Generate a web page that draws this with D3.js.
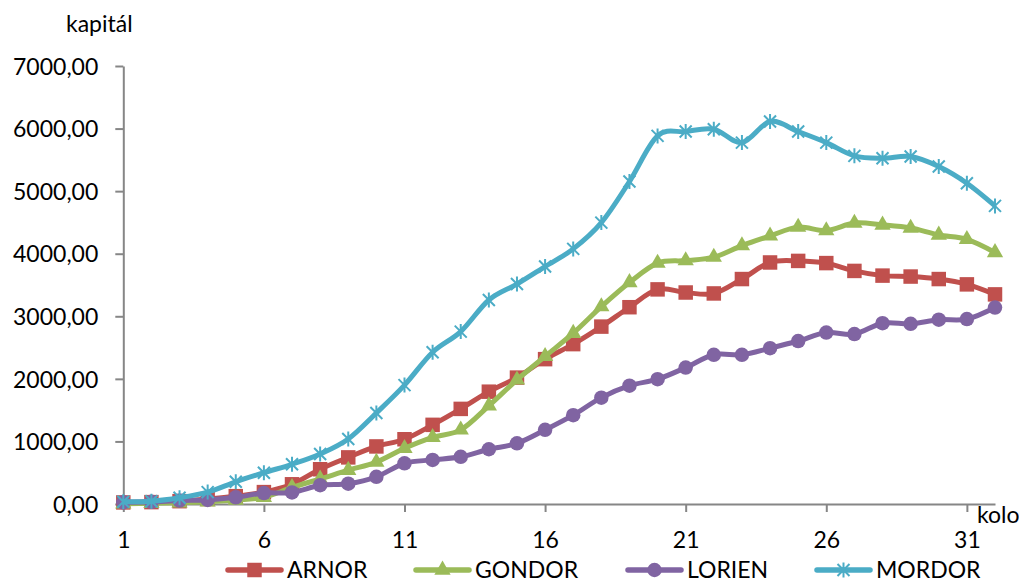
<!DOCTYPE html>
<html><head><meta charset="utf-8">
<script src="https://cdn.jsdelivr.net/npm/d3@7"></script>
<style>
html,body{margin:0;padding:0;background:#fff;}
svg{display:block;font-family:Lato,"Open Sans",sans-serif;}
</style></head>
<body>
<svg id="chart" width="1019" height="582"></svg>
<script>
const rounds = d3.range(1, 33);
const xTickValues = [1, 6, 11, 16, 21, 26, 31];
const yTickValues = [0, 1000, 2000, 3000, 4000, 5000, 6000, 7000];
const seriesNames = ["ARNOR", "GONDOR", "LORIEN", "MORDOR"];
const seriesColors = ["#C0504D", "#9BBB59", "#8064A2", "#4BACC6"];
const arnor = [25, 30, 45, 80, 125, 190, 315, 555, 745, 920, 1035, 1265, 1520, 1795, 2020, 2315, 2555, 2835, 3145, 3430, 3380, 3365, 3595, 3860, 3885, 3850, 3725, 3650, 3635, 3595, 3510, 3350];
const gondor = [5, 10, 20, 35, 65, 107, 265, 400, 540, 670, 890, 1065, 1185, 1570, 1985, 2360, 2730, 3155, 3540, 3850, 3890, 3945, 4130, 4285, 4425, 4370, 4490, 4460, 4410, 4300, 4230, 4020];
const lorien = [27, 35, 55, 65, 107, 175, 185, 300, 325, 435, 650, 705, 755, 875, 970, 1185, 1420, 1700, 1890, 1995, 2180, 2385, 2385, 2490, 2605, 2740, 2715, 2890, 2880, 2945, 2955, 3140];
const mordor = [35, 45, 100, 190, 355, 500, 635, 800, 1040, 1455, 1900, 2425, 2755, 3260, 3515, 3795, 4077, 4497, 5153, 5883, 5952, 5990, 5776, 6112, 5952, 5776, 5564, 5526, 5553, 5393, 5127, 4764];
const allSeries = [arnor, gondor, lorien, mordor];
const yTitle = "kapitál", xTitle = "kolo";

const svg = d3.select("#chart");
const x = d3.scaleLinear().domain([1, 32]).range([123.3, 995]);
const y = d3.scaleLinear().domain([0, 7000]).range([504, 66]);
const fmt = v => v.toFixed(2).replace(".", ",");
const axisColor = "#868686";
const fontSize = 23;

// Y axis
const yAxis = svg.append("g").attr("transform", `translate(${x(1)},0)`)
  .call(d3.axisLeft(y).tickValues(yTickValues).tickFormat(fmt).tickSize(8).tickPadding(17).tickSizeOuter(0));
// X axis
const xAxis = svg.append("g").attr("transform", `translate(0,${y(0)})`)
  .call(d3.axisBottom(x).tickValues(xTickValues).tickFormat(d3.format("d")).tickSize(8).tickPadding(17).tickSizeOuter(0));
[yAxis, xAxis].forEach(g => {
  g.select(".domain").attr("stroke", axisColor).attr("stroke-width", 2);
  g.selectAll(".tick line").attr("stroke", axisColor).attr("stroke-width", 2);
  g.selectAll("text").attr("font-size", fontSize).attr("font-family", "Lato").attr("fill", "#000");
});
xAxis.selectAll(".tick text").attr("dy", null).attr("y", 44);
yAxis.selectAll(".tick text").attr("x", -25).attr("dy", "0.36em");

svg.append("text").attr("x", 66).attr("y", 32).attr("font-size", fontSize).text(yTitle);
svg.append("text").attr("x", 977).attr("y", 523).attr("font-size", fontSize).text(xTitle);

const markerTypes = ["square", "triangle", "circle", "star"];
function drawMarker(g, type, color) {
  if (type === "square") {
    g.append("path").attr("d", d3.symbol(d3.symbolSquare, 210)()).attr("fill", color);
  } else if (type === "triangle") {
    g.append("path").attr("d", d3.symbol(d3.symbolTriangle, 115)()).attr("fill", color);
  } else if (type === "circle") {
    g.append("path").attr("d", d3.symbol(d3.symbolCircle, 165)()).attr("fill", color);
  } else {
    g.append("path").attr("d", "M-6,-6L6,6M-6,6L6,-6M0,-7.5L0,7.5")
      .attr("stroke", color).attr("stroke-width", 2).attr("fill", "none");
  }
}

const line = d3.line().x((d, i) => x(rounds[i])).y(d => y(d)).curve(d3.curveCatmullRom.alpha(0));
allSeries.forEach((s, k) => {
  const g = svg.append("g");
  g.append("path").datum(s).attr("d", line).attr("fill", "none")
    .attr("stroke", seriesColors[k]).attr("stroke-width", 5).attr("stroke-linejoin", "round");
  s.forEach((v, i) => {
    const mg = g.append("g").attr("transform", `translate(${x(rounds[i])},${y(v)})`);
    drawMarker(mg, markerTypes[k], seriesColors[k]);
  });
});

// Legend
const legendStarts = [228, 416, 628, 817];
const ly = 570;
seriesNames.forEach((name, k) => {
  const g = svg.append("g").attr("transform", `translate(${legendStarts[k]},${ly})`);
  g.append("line").attr("x1", 0).attr("x2", 53).attr("y1", 0).attr("y2", 0)
    .attr("stroke", seriesColors[k]).attr("stroke-width", 5.5).attr("stroke-linecap", "round");
  const mg = g.append("g").attr("transform", "translate(26.5,0)");
  drawMarker(mg, markerTypes[k], seriesColors[k]);
  g.append("text").attr("x", 59).attr("y", 8).attr("font-size", fontSize).text(name);
});
</script>
</body></html>
